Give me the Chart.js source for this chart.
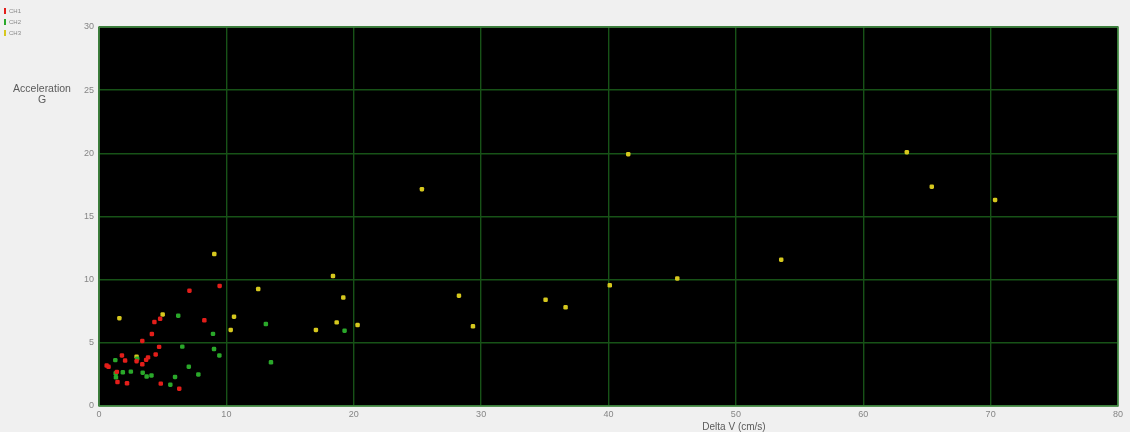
<!DOCTYPE html>
<html>
<head>
<meta charset="utf-8">
<script src="https://cdn.jsdelivr.net/npm/chart.js@4/dist/chart.umd.min.js"></script>
<style>
  html, body { margin: 0; padding: 0; background: #f0f0f0; }
  #wrap { width: 1130px; height: 432px; }
</style>
</head>
<body>
<div id="wrap"><canvas id="c" width="1130" height="432"></canvas></div>
<script>
// Shock events per channel: [delta V (cm/s), peak acceleration (G)]
const ch1Points = [
  [0.6, 3.2], [0.75, 3.1], [1.4, 2.7], [1.45, 1.9], [1.8, 4.0], [2.05, 3.6],
  [2.2, 1.8], [2.95, 3.55], [3.4, 3.3], [3.4, 5.15], [3.7, 3.65], [3.85, 3.85],
  [4.15, 5.7], [4.35, 6.65], [4.45, 4.08], [4.72, 4.68], [4.8, 6.9], [4.85, 1.77],
  [6.3, 1.37], [7.1, 9.13], [8.27, 6.78], [9.47, 9.5]
];
const ch2Points = [
  [1.28, 3.63], [1.31, 2.59], [1.33, 2.27], [1.87, 2.67], [2.5, 2.72], [3.0, 3.75],
  [3.43, 2.64], [3.74, 2.33], [4.12, 2.42], [5.6, 1.69], [5.97, 2.3], [6.22, 7.15],
  [6.54, 4.7], [7.05, 3.11], [7.8, 2.5], [8.95, 5.71], [9.03, 4.51], [9.45, 4.0],
  [13.1, 6.49], [13.5, 3.46], [19.28, 5.96]
];
const ch3Points = [
  [1.6, 6.95], [2.95, 3.9], [5.0, 7.25], [9.05, 12.03], [10.34, 6.02], [10.6, 7.07],
  [12.5, 9.26], [17.03, 6.02], [18.37, 10.29], [18.66, 6.62], [19.18, 8.58], [20.3, 6.41],
  [25.35, 17.16], [28.26, 8.73], [29.36, 6.31], [35.06, 8.41], [36.63, 7.81], [40.1, 9.55],
  [41.55, 19.93], [45.4, 10.1], [53.56, 11.58], [63.42, 20.09], [65.38, 17.36], [70.35, 16.31]
];
const channelNames = ['CH1', 'CH2', 'CH3'];
const channelColors = ['#e31e1a', '#2aa82a', '#d6c81e'];
const xTicks = [0, 10, 20, 30, 40, 50, 60, 70, 80];
const yTicks = [0, 5, 10, 15, 20, 25, 30];
const xTitle = 'Delta V (cm/s)';
const yTitle = ['Acceleration', 'G'];

const toXY = arr => arr.map(p => ({ x: p[0], y: p[1] }));

// Black plot area, outer frame, axis titles and the small channel key
const panelPlugin = {
  id: 'panel',
  beforeDraw(chart) {
    const { ctx, chartArea: a } = chart;
    ctx.save();
    ctx.fillStyle = '#f0f0f0';
    ctx.fillRect(0, 0, chart.width, chart.height);
    ctx.fillStyle = '#000000';
    ctx.fillRect(a.left, a.top, a.right - a.left, a.bottom - a.top);
    ctx.restore();
  },
  afterDraw(chart) {
    const { ctx, chartArea: a } = chart;
    ctx.save();
    ctx.strokeStyle = '#4a8f4a';
    ctx.lineWidth = 1.5;
    ctx.strokeRect(a.left, a.top, a.right - a.left, a.bottom - a.top);

    ctx.fillStyle = '#5a5a5a';
    ctx.font = '10.5px "Liberation Sans", Arial, sans-serif';
    ctx.textAlign = 'center';
    ctx.textBaseline = 'middle';
    ctx.fillText(yTitle[0], 42, 89);
    ctx.fillText(yTitle[1], 42, 100);
    ctx.font = '10px "Liberation Sans", Arial, sans-serif';
    ctx.fillText(xTitle, 734, 427);

    ctx.font = '6px "Liberation Sans", Arial, sans-serif';
    ctx.textAlign = 'left';
    chart.data.datasets.forEach((ds, i) => {
      const y = 11 + i * 11;
      ctx.fillStyle = ds.backgroundColor;
      ctx.fillRect(4, y - 3, 2, 6);
      ctx.fillStyle = '#888888';
      ctx.fillText(ds.label, 9, y);
    });
    ctx.restore();
  }
};

new Chart(document.getElementById('c'), {
  type: 'scatter',
  data: {
    datasets: [ch1Points, ch2Points, ch3Points].map((pts, i) => ({
      label: channelNames[i],
      data: toXY(pts),
      backgroundColor: channelColors[i],
      borderColor: channelColors[i],
      borderWidth: 0,
      pointStyle: 'rectRounded',
      pointRadius: 2.6,
      pointHoverRadius: 2.6
    }))
  },
  options: {
    responsive: false,
    animation: false,
    layout: { padding: { left: 0, right: 12, top: 27, bottom: 0 } },
    plugins: { legend: { display: false }, tooltip: { enabled: false } },
    scales: {
      x: {
        type: 'linear',
        min: xTicks[0],
        max: xTicks[xTicks.length - 1],
        afterBuildTicks: s => { s.ticks = xTicks.map(v => ({ value: v })); },
        afterFit: s => { s.height = 26; },
        grid: { color: '#175217', lineWidth: 1.4, drawTicks: false },
        border: { display: false },
        ticks: {
          color: '#858585',
          padding: 3,
          font: { family: '"Liberation Sans", Arial, sans-serif', size: 9 },
          maxRotation: 0
        }
      },
      y: {
        type: 'linear',
        min: yTicks[0],
        max: yTicks[yTicks.length - 1],
        afterBuildTicks: s => { s.ticks = yTicks.map(v => ({ value: v })); },
        afterFit: s => { s.width = 99; },
        grid: { color: '#175217', lineWidth: 1.4, drawTicks: false },
        border: { display: false },
        ticks: {
          color: '#858585',
          padding: 5,
          font: { family: '"Liberation Sans", Arial, sans-serif', size: 9 }
        }
      }
    }
  },
  plugins: [panelPlugin]
});
</script>
</body>
</html>
